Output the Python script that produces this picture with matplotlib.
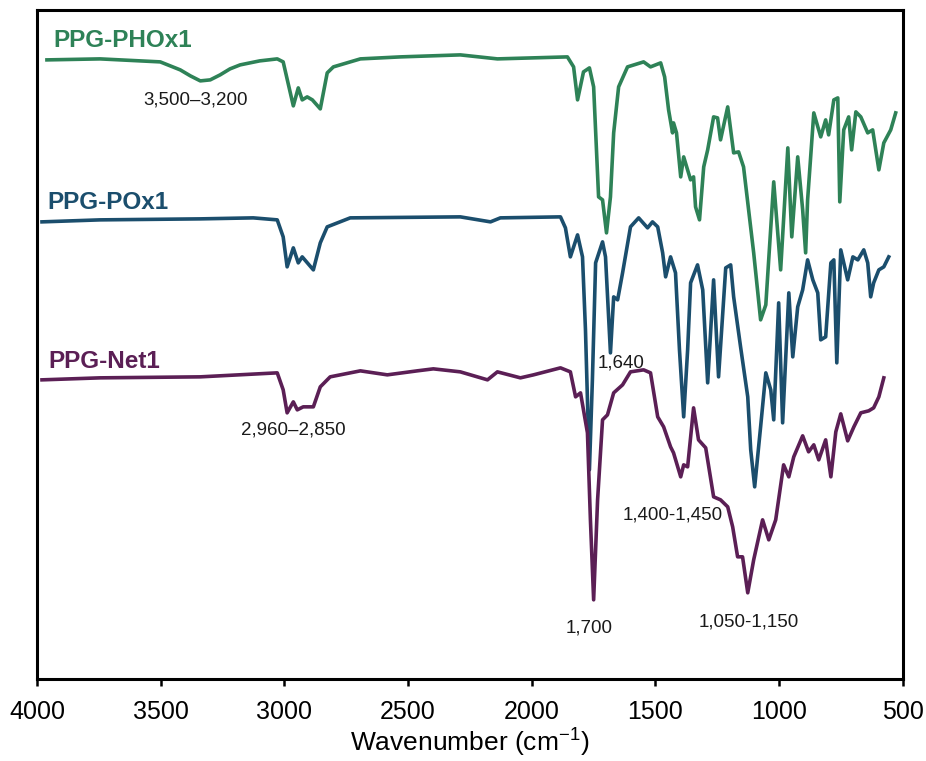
import matplotlib
matplotlib.use('Agg')
import matplotlib.pyplot as plt

plt.rcParams['font.family'] = ['Liberation Sans', 'DejaVu Sans']
plt.rcParams['mathtext.fontset'] = 'custom'
plt.rcParams['mathtext.rm'] = 'Liberation Sans'

# FTIR spectra (wavenumber in cm-1, stacked transmittance in a.u.)
wn_phox = [3960, 3745, 3502, 3421, 3380, 3340, 3300, 3260, 3220, 3179,
           3100, 3029, 3005, 2964,
           2944, 2928, 2908, 2887, 2855, 2827, 2802, 2693, 2531, 2289,
           2139, 1856, 1831, 1815, 1791, 1767, 1750, 1730, 1714, 1698,
           1682, 1669, 1649, 1613, 1548, 1520, 1479, 1463, 1447, 1431,
           1427, 1415, 1398, 1386, 1358, 1346, 1338, 1322, 1305, 1289,
           1265, 1249, 1237, 1208, 1184, 1164, 1144, 1103, 1075, 1054,
           1022, 994, 965, 949, 925, 905, 893, 885, 860, 832,
           812, 800, 779, 763, 755, 739, 719, 707, 690, 670,
           642, 622, 597, 577, 549, 529]
t_phox = [619, 620, 617, 609, 603, 598, 599, 604, 610, 614,
          618, 620, 617, 573,
          591, 579, 582, 579, 570, 606, 612, 620, 622, 624,
          620, 622, 612, 579, 607, 611, 592, 482, 479, 446,
          482, 546, 592, 612, 617, 612, 616, 602, 569, 546,
          556, 546, 502, 522, 499, 502, 472, 459, 512, 529,
          562, 561, 539, 572, 526, 527, 512, 426, 359, 374,
          497, 409, 531, 442, 522, 469, 426, 479, 566, 542,
          559, 544, 579, 581, 477, 549, 562, 529, 567, 562,
          546, 549, 509, 536, 549, 566]

wn_pox = [3980, 3745, 3340, 3126, 3029, 3005, 2989, 2964, 2944, 2928,
          2883, 2855, 2827, 2734, 2289, 2167, 2127, 1884, 1864, 1844,
          1815, 1795, 1783, 1767, 1755, 1742, 1714, 1702, 1682, 1669,
          1653, 1633, 1601, 1568, 1532, 1512, 1491, 1471, 1459, 1439,
          1419, 1403, 1386, 1370, 1358, 1330, 1309, 1289, 1265, 1245,
          1216, 1196, 1184, 1156, 1127, 1115, 1099, 1075, 1054, 1034,
          1022, 1002, 986, 961, 945, 925, 905, 885, 864, 844,
          832, 812, 791, 779, 767, 751, 723, 702, 682, 658,
          642, 630, 618, 597, 577, 557]
t_pox = [457, 459, 460, 461, 459, 442, 412, 431, 416, 422,
         409, 436, 452, 461, 462, 457, 461, 462, 451, 422,
         444, 422, 349, 209, 299, 416, 437, 422, 326, 382,
         379, 406, 452, 461, 451, 457, 452, 426, 402, 422,
         406, 329, 262, 329, 396, 414, 389, 296, 399, 302,
         411, 414, 382, 332, 282, 229, 192, 252, 306, 289,
         259, 376, 256, 386, 322, 372, 389, 419, 399, 386,
         339, 342, 416, 419, 316, 429, 399, 422, 419, 429,
         416, 382, 396, 409, 412, 422]

wn_net = [3980, 3745, 3340, 3029, 3005, 2989, 2964, 2948, 2924, 2883,
          2855, 2815, 2693, 2584, 2463, 2398, 2289, 2179, 2139, 2046,
          1993, 1884, 1844, 1823, 1803, 1775, 1763, 1750, 1734, 1714,
          1694, 1669, 1633, 1601, 1548, 1520, 1491, 1467, 1439, 1427,
          1398, 1386, 1370, 1346, 1326, 1297, 1265, 1237, 1208, 1188,
          1168, 1148, 1127, 1103, 1067, 1042, 1014, 982, 961, 941,
          905, 881, 860, 840, 812, 791, 771, 751, 723, 698,
          670, 638, 618, 597, 577]
t_net = [299, 301, 302, 306, 289, 266, 277, 269, 272, 272,
         292, 302, 308, 304, 308, 310, 307, 299, 307, 301,
         304, 311, 307, 282, 286, 246, 159, 79, 179, 259,
         264, 286, 294, 307, 309, 306, 262, 252, 232, 226,
         202, 214, 212, 271, 239, 231, 182, 179, 172, 152,
         122, 122, 86, 119, 159, 139, 159, 214, 202, 222,
         243, 227, 234, 219, 239, 202, 247, 265, 238, 252,
         266, 268, 271, 282, 301]

names = ['PPG-PHOx1', 'PPG-POx1', 'PPG-Net1']
colors = ['#2e8257', '#1b4e6d', '#5b1f55']
name_pos = [(3935, 638), (3960, 476), (3955, 317)]

band_labels = ['3,500–3,200', '2,960–2,850', '1,640', '1,400-1,450', '1,700', '1,050-1,150']
band_pos = [(3361, 579), (2964, 249), (1641, 316), (1431, 164), (1767, 51), (1123, 57)]

fig = plt.figure(figsize=(9.26, 7.61), dpi=100)
ax = fig.add_axes([0.040, 0.108, 0.935, 0.879])

for wn, t, c in zip([wn_phox, wn_pox, wn_net], [t_phox, t_pox, t_net], colors):
    ax.plot(wn, t, color=c, linewidth=2.6, solid_joinstyle='round')

for name, (x, y), c in zip(names, name_pos, colors):
    ax.text(x, y, name, color=c, fontsize=17.5, fontweight='bold', ha='left', va='center')

for lab, (x, y) in zip(band_labels, band_pos):
    ax.text(x, y, lab, color='#1a1a1a', fontsize=13.5, ha='center', va='center')

ax.set_xlim(4000, 500)
ax.set_ylim(0, 669)
ax.set_xticks([4000, 3500, 3000, 2500, 2000, 1500, 1000, 500])
ax.set_yticks([])
ax.tick_params(axis='x', direction='out', length=5, width=1.8, labelsize=18, pad=10)
for sp in ax.spines.values():
    sp.set_linewidth(2.2)
    sp.set_color('black')
ax.set_xlabel('Wavenumber (cm$^{-1}$)', fontsize=19, labelpad=1)

fig.savefig('out.png', dpi=100)
